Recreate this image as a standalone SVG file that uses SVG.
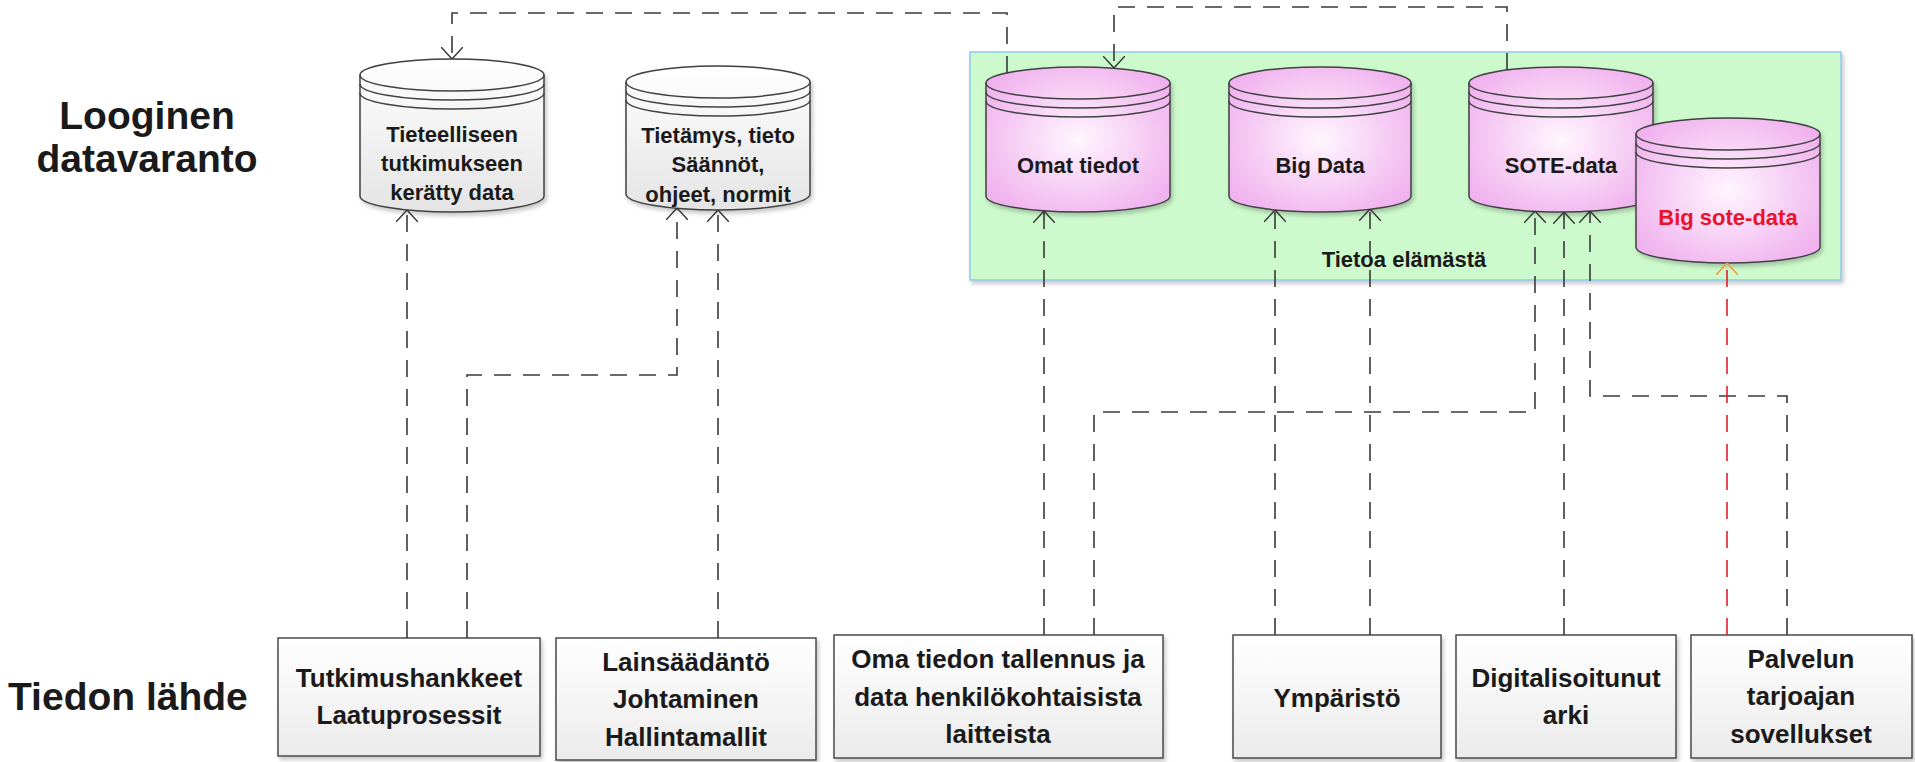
<svg xmlns="http://www.w3.org/2000/svg" width="1915" height="762" viewBox="0 0 1915 762">
<defs>
<style>
.t{font-family:"Liberation Sans",Arial,sans-serif;font-weight:bold;fill:#1a1a1a;text-anchor:middle}
.big{font-size:39px}
.bx{font-size:26px}
.cyt{font-size:22px}
.box{fill:url(#gBox);stroke:#4a4a4a;stroke-width:1.5}
.cylG{fill:url(#gGray);stroke:#404040;stroke-width:1.5}
.cylP{fill:url(#gPink);stroke:#404040;stroke-width:1.5}
.ln{fill:none;stroke:#404040;stroke-width:1.5}
.con{fill:none;stroke:#3a3a3a;stroke-width:1.6;stroke-dasharray:17 12}
.red{stroke:#e0202a}
</style>
<linearGradient id="gBox" x1="0" y1="0" x2="0" y2="1">
<stop offset="0" stop-color="#ffffff"/>
<stop offset="1" stop-color="#ebebeb"/>
</linearGradient>
<linearGradient id="gGray" x1="0" y1="0" x2="0" y2="1">
<stop offset="0" stop-color="#ffffff"/>
<stop offset="1" stop-color="#e4e4e4"/>
</linearGradient>
<radialGradient id="gPink" cx="0.5" cy="0.5" r="0.6">
<stop offset="0" stop-color="#fff6fe"/>
<stop offset="1" stop-color="#f0b2ee"/>
</radialGradient>
<filter id="sh" x="-10%" y="-10%" width="130%" height="130%">
<feDropShadow dx="2" dy="3" stdDeviation="2" flood-color="#000" flood-opacity="0.22"/>
</filter>
<marker id="ah" markerUnits="userSpaceOnUse" viewBox="0 0 12 22" refX="12" refY="11" markerWidth="12" markerHeight="22" orient="auto">
<path d="M0,0 L12,11 L0,22" fill="none" stroke="#333" stroke-width="1.4" stroke-dasharray="none"/>
</marker>
<marker id="ahR" markerUnits="userSpaceOnUse" viewBox="0 0 12 22" refX="12" refY="11" markerWidth="12" markerHeight="22" orient="auto">
<path d="M0,0 L12,11 L0,22" fill="none" stroke="#f0a040" stroke-width="1.6" stroke-dasharray="none"/>
</marker>
</defs>

<rect width="1915" height="762" fill="#ffffff"/>

<!-- labels -->
<g id="labels">
<text class="t big" x="147" y="129">Looginen</text>
<text class="t big" x="147" y="172">datavaranto</text>
<text class="t big" x="8" y="710" style="text-anchor:start">Tiedon lähde</text>
</g>

<!-- container -->
<g id="tietoa-elamasta">
<rect x="970" y="52" width="871" height="228" fill="#cdfacd" stroke="#8ec8ea" stroke-width="1.5" filter="url(#sh)"/>
<text class="t cyt" x="1404" y="267">Tietoa elämästä</text>
</g>

<!-- cylinders -->
<g id="cyl-tieteelliseen">
<path class="cylG" filter="url(#sh)" d="M360,75 A92,16 0 0 1 544,75 V196 A92,16 0 0 1 360,196 Z"/>
<path class="ln" d="M360,75 A92,16 0 0 0 544,75 M360,84 A92,16 0 0 0 544,84 M360,93 A92,16 0 0 0 544,93"/>
<text class="t cyt" x="452" y="142">Tieteelliseen</text>
<text class="t cyt" x="452" y="171">tutkimukseen</text>
<text class="t cyt" x="452" y="200">kerätty data</text>
</g>
<g id="cyl-tietamys">
<path class="cylG" filter="url(#sh)" d="M626,82 A92,16 0 0 1 810,82 V194 A92,16 0 0 1 626,194 Z"/>
<path class="ln" d="M626,82 A92,16 0 0 0 810,82 M626,91 A92,16 0 0 0 810,91 M626,100 A92,16 0 0 0 810,100"/>
<text class="t cyt" x="718" y="143">Tietämys, tieto</text>
<text class="t cyt" x="718" y="172">Säännöt,</text>
<text class="t cyt" x="718" y="202">ohjeet, normit</text>
</g>
<g id="cyl-omat">
<path class="cylP" filter="url(#sh)" d="M986,83 A92,16 0 0 1 1170,83 V196 A92,16 0 0 1 986,196 Z"/>
<path class="ln" d="M986,83 A92,16 0 0 0 1170,83 M986,92 A92,16 0 0 0 1170,92 M986,101 A92,16 0 0 0 1170,101"/>
<text class="t cyt" x="1078" y="173">Omat tiedot</text>
</g>
<g id="cyl-bigdata">
<path class="cylP" filter="url(#sh)" d="M1229,83 A91,16 0 0 1 1411,83 V196 A91,16 0 0 1 1229,196 Z"/>
<path class="ln" d="M1229,83 A91,16 0 0 0 1411,83 M1229,92 A91,16 0 0 0 1411,92 M1229,101 A91,16 0 0 0 1411,101"/>
<text class="t cyt" x="1320" y="173">Big Data</text>
</g>
<g id="cyl-sote">
<path class="cylP" filter="url(#sh)" d="M1469,83 A92,16 0 0 1 1653,83 V196 A92,16 0 0 1 1469,196 Z"/>
<path class="ln" d="M1469,83 A92,16 0 0 0 1653,83 M1469,92 A92,16 0 0 0 1653,92 M1469,101 A92,16 0 0 0 1653,101"/>
<text class="t cyt" x="1561" y="173">SOTE-data</text>
</g>
<g id="cyl-bigsote">
<path class="cylP" filter="url(#sh)" d="M1636,134 A92,16 0 0 1 1820,134 V247 A92,16 0 0 1 1636,247 Z"/>
<path class="ln" d="M1636,134 A92,16 0 0 0 1820,134 M1636,143 A92,16 0 0 0 1820,143 M1636,152 A92,16 0 0 0 1820,152"/>
<text class="t cyt" x="1728" y="225" style="fill:#e8142c">Big sote-data</text>
</g>

<!-- source boxes -->
<g id="box-tutkimus">
<rect class="box" filter="url(#sh)" x="278" y="638" width="262" height="118"/>
<text class="t bx" x="409" y="687">Tutkimushankkeet</text>
<text class="t bx" x="409" y="724">Laatuprosessit</text>
</g>
<g id="box-lainsaadanto">
<rect class="box" filter="url(#sh)" x="556" y="638" width="260" height="122"/>
<text class="t bx" x="686" y="671">Lainsäädäntö</text>
<text class="t bx" x="686" y="708">Johtaminen</text>
<text class="t bx" x="686" y="746">Hallintamallit</text>
</g>
<g id="box-oma">
<rect class="box" filter="url(#sh)" x="834" y="635" width="329" height="123"/>
<text class="t bx" x="998" y="668">Oma tiedon tallennus ja</text>
<text class="t bx" x="998" y="706">data henkilökohtaisista</text>
<text class="t bx" x="998" y="743">laitteista</text>
</g>
<g id="box-ymparisto">
<rect class="box" filter="url(#sh)" x="1233" y="635" width="208" height="123"/>
<text class="t bx" x="1337" y="707">Ympäristö</text>
</g>
<g id="box-digitalisoitunut">
<rect class="box" filter="url(#sh)" x="1456" y="635" width="220" height="123"/>
<text class="t bx" x="1566" y="687">Digitalisoitunut</text>
<text class="t bx" x="1566" y="724">arki</text>
</g>
<g id="box-palvelun">
<rect class="box" filter="url(#sh)" x="1691" y="635" width="221" height="123"/>
<text class="t bx" x="1801" y="668">Palvelun</text>
<text class="t bx" x="1801" y="705">tarjoajan</text>
<text class="t bx" x="1801" y="743">sovellukset</text>
</g>

<!-- connectors -->
<g id="connectors">
<path class="con" marker-end="url(#ah)" d="M1007,73 V13 H452 V59"/>
<path class="con" marker-end="url(#ah)" d="M1507,70 V7 H1114 V68"/>
<path class="con" marker-end="url(#ah)" d="M407,638 V210"/>
<path class="con" marker-end="url(#ah)" d="M467,638 V375 H677 V208"/>
<path class="con" marker-end="url(#ah)" d="M718,638 V210"/>
<path class="con" marker-end="url(#ah)" d="M1044,635 V211"/>
<path class="con" marker-end="url(#ah)" d="M1094,635 V412 H1535 V211"/>
<path class="con" marker-end="url(#ah)" d="M1275,635 V210"/>
<path class="con" marker-end="url(#ah)" d="M1370,635 V209"/>
<path class="con" marker-end="url(#ah)" d="M1564,635 V212"/>
<path class="con" marker-end="url(#ah)" d="M1787,635 V396 H1590 V211"/>
<path class="con red" marker-end="url(#ahR)" d="M1727,635 V263"/>
</g>
</svg>
